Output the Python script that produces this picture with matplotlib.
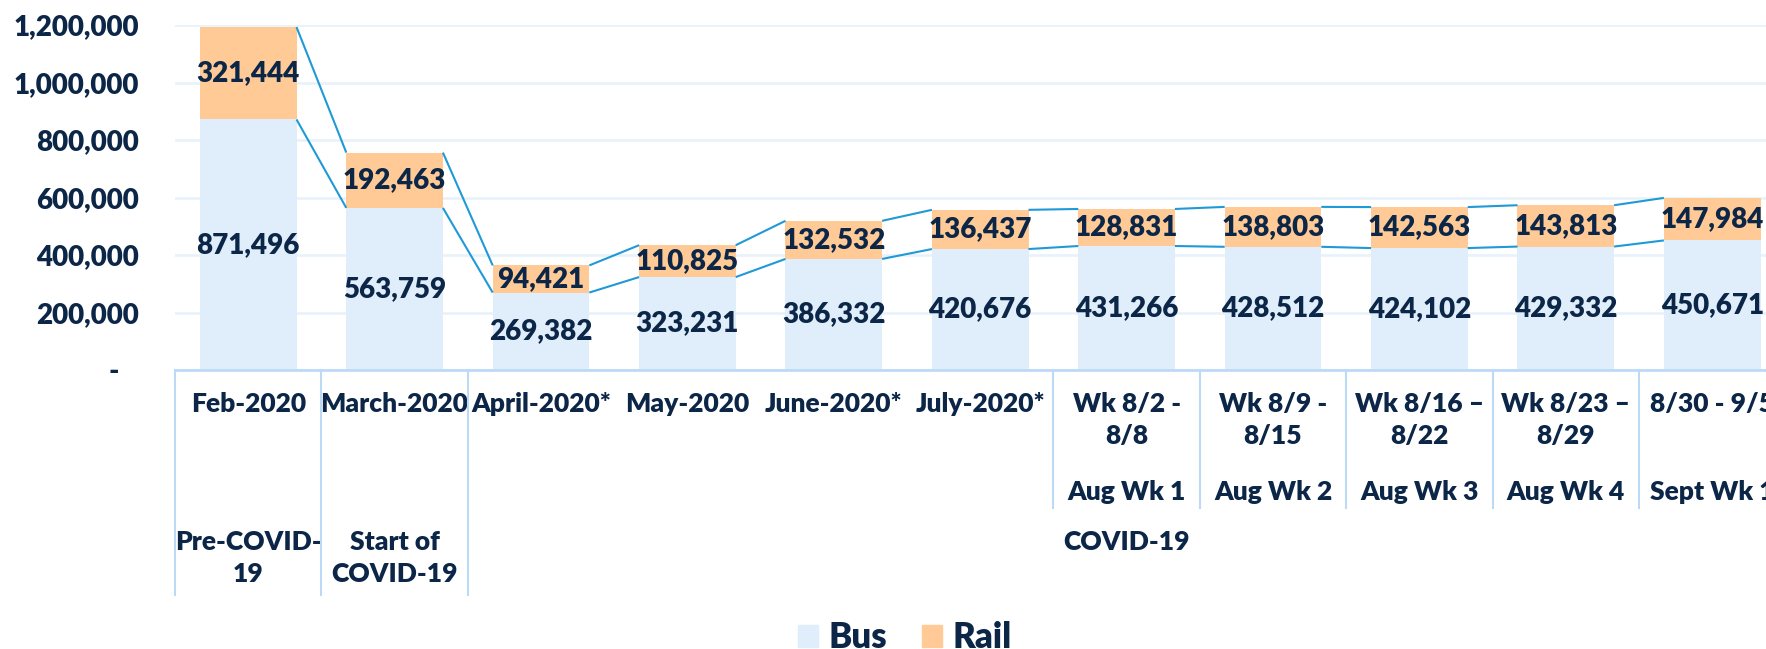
import matplotlib
matplotlib.use('Agg')
import matplotlib.pyplot as plt
from matplotlib.patches import Patch
from matplotlib.lines import Line2D
from matplotlib.transforms import blended_transform_factory

plt.rcParams['font.family'] = ['Lato', 'DejaVu Sans']
WT = 'heavy'

# data
cats = ["Feb-2020", "March-2020", "April-2020*", "May-2020", "June-2020*", "July-2020*",
        "Wk 8/2 -\n8/8", "Wk 8/9 -\n8/15", "Wk 8/16 \u2013\n8/22", "Wk 8/23 \u2013\n8/29", "8/30 - 9/5"]
weeks = ["", "", "", "", "", "", "Aug Wk 1", "Aug Wk 2", "Aug Wk 3", "Aug Wk 4", "Sept Wk 1"]
groups = ["Pre-COVID-\n19", "Start of\nCOVID-19", "COVID-19"]
group_first = [0, 1, 2]
group_last = [0, 1, 10]
bus = [871496, 563759, 269382, 323231, 386332, 420676, 431266, 428512, 424102, 429332, 450671]
rail = [321444, 192463, 94421, 110825, 132532, 136437, 128831, 138803, 142563, 143813, 147984]

NAVY = '#0c2647'
BUS_C = '#e0eefb'
RAIL_C = '#ffca96'
LINE_C = '#1f9ad6'
GRID_C = '#e9f2fb'
AXIS_C = '#bcdaf6'

W, H = 1766, 649
fig = plt.figure(figsize=(W / 100, H / 100), dpi=100)
# axes runs past the right edge, the last column is cut off like the original
ax = fig.add_axes([175 / W, 1 - 370 / H, 11 * 146.4 / W, 345 / H])

x = list(range(len(cats)))
bw = 0.66
ax.bar(x, bus, bw, color=BUS_C, zorder=2)
ax.bar(x, rail, bw, bottom=bus, color=RAIL_C, zorder=2)

tops = [b + r for b, r in zip(bus, rail)]
for i in range(len(x) - 1):
    for s in (bus, tops):
        ax.plot([x[i] + bw / 2, x[i + 1] - bw / 2], [s[i], s[i + 1]],
                color=LINE_C, lw=1.5, zorder=3, solid_capstyle='butt')

for i in x:
    ax.text(i, bus[i] / 2, f"{bus[i]:,}", ha='center', va='center',
            fontsize=20, color=NAVY, fontweight=WT, zorder=4)
    ax.text(i, bus[i] + rail[i] / 2, f"{rail[i]:,}", ha='center', va='center',
            fontsize=20, color=NAVY, fontweight=WT, zorder=4)

ax.set_xlim(-0.5, 10.5)
ax.set_ylim(0, 1200000)
ax.set_yticks(range(0, 1200001, 200000))
ax.set_yticklabels(['-   '] + [f"{v:,}" for v in range(200000, 1200001, 200000)],
                   fontsize=20, color=NAVY, fontweight=WT)
ax.tick_params(axis='y', length=0, pad=26)
ax.set_xticks([])
ax.grid(axis='y', color=GRID_C, lw=2, zorder=0)
for sp in ['left', 'right', 'top']:
    ax.spines[sp].set_visible(False)
ax.spines['bottom'].set_color(AXIS_C)
ax.spines['bottom'].set_linewidth(2)

# category table below the axis
tr = blended_transform_factory(ax.transData, fig.transFigure)

def fy(px):
    return 1 - px / H

def put(xc, text, y0, step=32):
    for k, line in enumerate(text.split('\n')):
        ax.text(xc, fy(y0 + k * step), line, transform=tr, ha='center', va='center',
                fontsize=19, color=NAVY, fontweight=WT, clip_on=False)

for i in x:
    put(i, cats[i], 404)
    if weeks[i]:
        put(i, weeks[i], 492)
for g, a, b in zip(groups, group_first, group_last):
    put((a + b) / 2, g, 542)

for xb in [-0.5, 0.5, 1.5]:
    fig.add_artist(Line2D([xb, xb], [fy(370), fy(595)], transform=tr, color=AXIS_C, lw=1.5))
for xb in [5.5, 6.5, 7.5, 8.5, 9.5]:
    fig.add_artist(Line2D([xb, xb], [fy(370), fy(508)], transform=tr, color=AXIS_C, lw=1.5))

handles = [Patch(color=BUS_C, label='Bus'), Patch(color=RAIL_C, label='Rail')]
fig.legend(handles=handles, loc='center', bbox_to_anchor=(905 / W, 1 - 638 / H), ncol=2,
           frameon=False, prop={'size': 25, 'weight': WT}, labelcolor=NAVY,
           handlelength=0.58, handleheight=0.58, handletextpad=0.3, columnspacing=1.0)

fig.savefig('out.png', dpi=100)
